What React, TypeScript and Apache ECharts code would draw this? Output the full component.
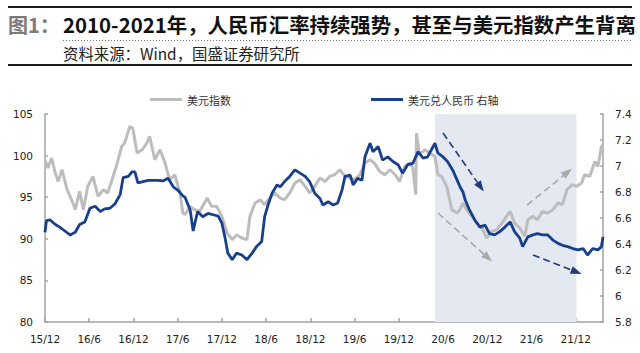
import React, { useEffect, useRef } from 'react';
import * as echarts from 'echarts';

// x positions are months elapsed since end of Dec 2015
const tickMonths = [0, 6, 12, 18, 24, 30, 36, 42, 48, 54, 60, 66, 72];
const tickLabels = ['15/12', '16/6', '16/12', '17/6', '17/12', '18/6', '18/12', '19/6', '19/12', '20/6', '20/12', '21/6', '21/12'];

const dxyMonths = [0, 0.4, 0.9, 1.4, 1.8, 2.3, 3.0, 3.7, 4.1, 4.7, 5.2, 5.8, 6.5, 7.2, 7.9, 8.5, 9.1, 9.8, 10.4, 10.8, 11.5, 11.9, 12.5, 13.2, 13.8, 14.2, 14.9, 15.6, 16.3, 16.9, 17.6, 18.3, 18.7, 19.0, 19.7, 20.3, 21.0, 22.0, 22.6, 23.3, 24.0, 24.7, 25.4, 26.0, 26.7, 27.4, 27.8, 28.5, 29.2, 29.8, 30.5, 31.2, 31.9, 32.5, 33.2, 33.9, 34.6, 35.3, 35.9, 36.6, 37.3, 38.0, 38.6, 39.3, 40.0, 40.7, 41.4, 42.0, 42.7, 43.4, 44.1, 44.7, 45.4, 46.1, 46.8, 47.5, 48.1, 48.8, 49.5, 49.9, 50.3, 50.4, 50.8, 51.5, 52.2, 52.9, 53.3, 53.8, 54.5, 55.2, 55.9, 56.3, 56.7, 57.2, 57.9, 58.6, 59.3, 59.9, 60.6, 61.3, 62.0, 62.6, 63.1, 63.7, 64.4, 65.1, 65.5, 66.2, 66.8, 67.5, 68.2, 68.9, 69.6, 70.2, 70.8, 71.5, 72.1, 72.8, 73.2, 73.9, 74.6, 75.0, 75.5, 75.7];
const dxyValues = [99.5, 98.5, 99.7, 97.9, 96.9, 98.3, 95.9, 94.5, 93.5, 95.7, 93.5, 96.3, 97.5, 95.1, 95.9, 95.5, 97.1, 99.1, 101.1, 101.5, 103.5, 103.3, 100.3, 100.7, 101.5, 102.3, 99.5, 100.7, 99.1, 97.1, 97.7, 95.6, 93.1, 92.9, 93.9, 93.5, 93.3, 94.9, 93.9, 93.9, 92.7, 90.7, 89.9, 90.5, 90.1, 89.9, 92.7, 94.3, 94.7, 94.1, 94.9, 95.5, 94.9, 94.7, 95.5, 96.7, 97.1, 96.3, 95.5, 96.3, 97.3, 96.9, 97.5, 97.7, 98.3, 97.5, 97.3, 97.1, 97.7, 99.1, 99.5, 99.1, 98.1, 97.7, 98.3, 97.7, 96.9, 98.7, 99.1, 98.5, 95.3, 102.7, 100.1, 100.7, 100.3, 99.9, 97.7, 97.5, 96.3, 93.5, 93.1, 93.5, 94.3, 93.5, 92.7, 91.9, 91.3, 90.1, 90.9, 91.1, 91.9, 92.7, 93.3, 91.9, 91.3, 90.3, 92.3, 92.7, 92.3, 93.3, 93.1, 93.5, 94.3, 94.1, 95.9, 96.5, 96.3, 96.7, 97.7, 97.5, 99.3, 98.7, 101.1, 101.3];

const cnyMonths = [0, 0.2, 0.7, 1.4, 2.0, 2.7, 3.4, 4.1, 4.7, 5.4, 6.1, 6.8, 7.5, 8.1, 8.8, 9.5, 10.2, 10.6, 11.3, 11.8, 12.2, 12.6, 13.3, 14.0, 14.6, 15.3, 16.0, 16.7, 17.4, 18.0, 18.7, 19.0, 19.7, 20.1, 20.7, 21.4, 22.1, 22.8, 23.5, 24.0, 24.4, 24.8, 25.4, 26.0, 26.7, 27.4, 28.1, 28.7, 29.4, 29.8, 30.2, 30.8, 31.5, 31.9, 32.5, 33.2, 33.9, 34.6, 35.3, 35.9, 36.6, 37.3, 37.7, 38.4, 39.1, 39.7, 40.3, 40.7, 41.4, 41.8, 42.4, 43.0, 43.4, 44.1, 44.5, 45.2, 45.8, 46.5, 47.2, 47.9, 48.5, 49.2, 49.9, 50.6, 51.3, 51.9, 52.9, 53.3, 54.0, 54.6, 55.3, 56.0, 56.3, 56.7, 57.0, 57.6, 58.3, 59.0, 59.7, 60.3, 61.0, 61.7, 62.4, 63.1, 63.7, 64.4, 64.8, 65.5, 66.2, 66.8, 67.5, 68.2, 68.9, 69.6, 70.2, 70.9, 71.6, 72.3, 73.0, 73.6, 74.3, 75.0, 75.5, 75.7];
const cnyValues = [6.49, 6.58, 6.585, 6.55, 6.53, 6.5, 6.47, 6.49, 6.55, 6.57, 6.675, 6.69, 6.65, 6.67, 6.675, 6.71, 6.78, 6.91, 6.92, 6.955, 6.955, 6.87, 6.88, 6.89, 6.89, 6.89, 6.885, 6.905, 6.84, 6.815, 6.77, 6.76, 6.66, 6.5, 6.65, 6.61, 6.635, 6.625, 6.615, 6.56, 6.455, 6.33, 6.28, 6.33, 6.315, 6.28, 6.33, 6.38, 6.42, 6.61, 6.69, 6.79, 6.855, 6.84, 6.88, 6.92, 6.97, 6.945, 6.92, 6.88, 6.79, 6.75, 6.7, 6.725, 6.7, 6.715, 6.815, 6.92, 6.93, 6.855, 6.905, 6.89, 7.07, 7.175, 7.11, 7.15, 7.045, 7.07, 7.035, 7.01, 6.945, 7.01, 7.02, 7.11, 7.06, 7.07, 7.175, 7.1, 7.07, 7.035, 6.97, 6.88, 6.84, 6.8, 6.74, 6.66, 6.585, 6.53, 6.545, 6.48, 6.47, 6.495, 6.53, 6.57, 6.495, 6.445, 6.38, 6.455, 6.47, 6.48, 6.47, 6.47, 6.43, 6.405, 6.39, 6.38, 6.365, 6.355, 6.365, 6.315, 6.365, 6.355, 6.38, 6.455];

const shadeMonths = [52.9, 72.1];
const shadeTopLeft = 105.85;
const blueArrows = [
  [[54.0, 7.254], [59.1, 6.838]],
  [[66.2, 6.315], [72.1, 6.185]],
];
const grayArrows = [
  [[53.3, 93.1], [60.1, 87.7]],
  [[65.4, 94.06], [70.9, 98.0]],
];

const SERIES_DXY = '美元指数';
const SERIES_CNY = '美元兑人民币 右轴';
const TITLE_PREFIX = '图1：';
const TITLE_MAIN = '2010-2021年，人民币汇率持续强势，甚至与美元指数产生背离';
const SUBTITLE = '资料来源：Wind，国盛证券研究所';

const CJK = '"Noto Sans CJK SC", "Noto Sans", sans-serif';
const AXIS_FONT = '"DejaVu Sans", Verdana, sans-serif';

export default function App() {
  const ref = useRef<HTMLDivElement>(null);
  useEffect(() => {
    if (!ref.current) return;
    const chart = echarts.init(ref.current, null, { renderer: 'svg' });
    const axisLine = { show: true, lineStyle: { color: '#a3a3a3', width: 1.5 } };
    const arrowLine = (arrs: number[][][], color: string) => ({
      silent: true,
      symbol: ['none', 'triangle'],
      symbolSize: [8, 11],
      label: { show: false },
      lineStyle: { color, width: 1.6, type: [7, 4] },
      itemStyle: { color },
      emphasis: { disabled: true },
      data: arrs.map((a) => [{ coord: a[0] }, { coord: a[1] }]),
    });
    chart.setOption({
      animation: false,
      grid: { left: 45, right: 37, top: 114, bottom: 31 },
      legend: [
        {
          data: [SERIES_DXY], left: 145, top: 89, icon: 'rect', itemWidth: 32, itemHeight: 3, itemGap: 4,
          textStyle: { fontFamily: CJK, fontSize: 11, color: '#333' },
        },
        {
          data: [SERIES_CNY], left: 366, top: 89, icon: 'rect', itemWidth: 32, itemHeight: 3, itemGap: 4,
          textStyle: { fontFamily: CJK, fontSize: 11, color: '#333' },
        },
      ],
      xAxis: {
        type: 'value', min: 0, max: 75.7,
        splitLine: { show: false },
        axisLine,
        axisTick: { show: true, inside: true, length: 4, customValues: tickMonths, lineStyle: { color: '#a3a3a3', width: 1.5 } },
        axisLabel: {
          customValues: tickMonths,
          margin: 11,
          fontFamily: AXIS_FONT, fontSize: 10.5, color: '#222',
          formatter: (v: number) => { const i = tickMonths.indexOf(Math.round(v)); return i >= 0 ? tickLabels[i] : ''; },
        },
      },
      yAxis: [
        {
          type: 'value', min: 80, max: 105, interval: 5,
          splitLine: { show: false }, axisLine,
          axisTick: { show: true, inside: true, length: 3, lineStyle: { color: '#a3a3a3', width: 1.5 } },
          axisLabel: { margin: 12, fontFamily: AXIS_FONT, fontSize: 10.5, color: '#222' },
        },
        {
          type: 'value', min: 5.8, max: 7.4, interval: 0.2, position: 'right',
          splitLine: { show: false }, axisLine,
          axisTick: { show: true, inside: true, length: 3, lineStyle: { color: '#a3a3a3', width: 1.5 } },
          axisLabel: {
            margin: 12, fontFamily: AXIS_FONT, fontSize: 10.5, color: '#222',
            formatter: (v: number) => String(parseFloat(v.toFixed(1))),
          },
        },
      ],
      series: [
        {
          name: SERIES_DXY, type: 'line', yAxisIndex: 0, showSymbol: false, clip: false,
          data: dxyMonths.map((m, i) => [m, dxyValues[i]]),
          lineStyle: { color: '#bdbdbd', width: 3 }, itemStyle: { color: '#bdbdbd' },
          z: 2,
          markArea: {
            silent: true,
            itemStyle: { color: '#e3e8f1' },
            data: [[{ xAxis: shadeMonths[0], yAxis: shadeTopLeft }, { xAxis: shadeMonths[1], yAxis: 80 }]],
          },
          markLine: arrowLine(grayArrows, '#a9a9a9'),
        },
        {
          name: SERIES_CNY, type: 'line', yAxisIndex: 1, showSymbol: false,
          data: cnyMonths.map((m, i) => [m, cnyValues[i]]),
          lineStyle: { color: '#173f8c', width: 2.8 }, itemStyle: { color: '#173f8c' },
          z: 3,
          markLine: arrowLine(blueArrows, '#1f3d7c'),
        },
      ],
      graphic: [
        { type: 'line', shape: { x1: 8, y1: 7, x2: 632, y2: 7 }, style: { stroke: '#1a1a1a', lineWidth: 2 } },
        { type: 'line', shape: { x1: 63, y1: 40.5, x2: 632, y2: 40.5 }, style: { stroke: '#777', lineWidth: 1, lineDash: [1, 2] } },
        { type: 'line', shape: { x1: 8, y1: 65, x2: 632, y2: 65 }, style: { stroke: '#1a1a1a', lineWidth: 2 } },
        { type: 'text', x: 8, y: 24, style: { text: TITLE_PREFIX, fill: '#7a7a7a', font: `bold 20px ${CJK}`, textVerticalAlign: 'middle' } },
        { type: 'text', x: 63, y: 24, style: { text: TITLE_MAIN, fill: '#111', font: `bold 20.4px ${CJK}`, textVerticalAlign: 'middle' } },
        { type: 'text', x: 63, y: 53, style: { text: SUBTITLE, fill: '#222', font: `15.4px ${CJK}`, textVerticalAlign: 'middle' } },
      ],
    });
    return () => chart.dispose();
  }, []);
  return <div ref={ref} style={{ position: 'absolute', left: 0, top: 0, width: 640, height: 353 }} />;
}
